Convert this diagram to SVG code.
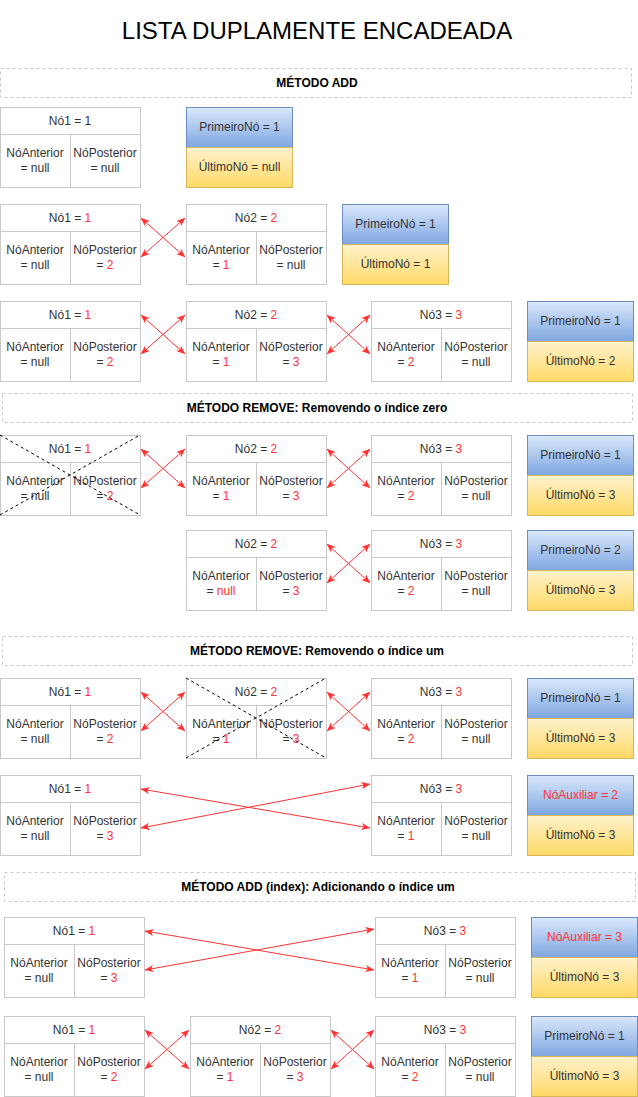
<svg xmlns="http://www.w3.org/2000/svg" width="638" height="1097" viewBox="0 0 638 1097">
<defs>
<linearGradient id="gb" x1="0" y1="0" x2="0" y2="1"><stop offset="0" stop-color="#dae8fc"/><stop offset="1" stop-color="#7ea6e0"/></linearGradient>
<linearGradient id="gy" x1="0" y1="0" x2="0" y2="1"><stop offset="0" stop-color="#fff2cc"/><stop offset="1" stop-color="#ffd966"/></linearGradient>
<marker id="ah" viewBox="0 0 10 10" refX="9.5" refY="5" markerWidth="9" markerHeight="9" markerUnits="userSpaceOnUse" orient="auto-start-reverse"><path d="M0,1 L10,5 L0,9 L2.5,5 z" fill="#FF3333"/></marker>
<style>
.t{font-family:"Liberation Sans",Arial,Helvetica,sans-serif;font-size:12px;fill:#333;text-anchor:middle}
.r{fill:#FF3333}
.nb{fill:#fff;stroke:#C8C8C8;stroke-width:1}
.nl{fill:none;stroke:#C8C8C8;stroke-width:1}
.bb{fill:url(#gb);stroke:#6c8ebf;stroke-width:1}
.by{fill:url(#gy);stroke:#d6b656;stroke-width:1}
.sec{fill:none;stroke:#C8C8C8;stroke-dasharray:3 3;stroke-width:1}
.st{font-family:"Liberation Sans",Arial,Helvetica,sans-serif;font-size:12px;font-weight:bold;fill:#000;text-anchor:middle}
.ti{font-family:"Liberation Sans",Arial,Helvetica,sans-serif;font-size:24px;fill:#000;text-anchor:middle}
.x{stroke:#000;stroke-dasharray:3 3;stroke-width:1;fill:none}
.a{stroke:#FF3333;stroke-width:1;fill:none;marker-start:url(#ah);marker-end:url(#ah)}
</style>
</defs>
<rect width="638" height="1097" fill="#fff"/>
<text id="title" class="ti" x="317" y="38.5">LISTA DUPLAMENTE ENCADEADA</text>

<g id="sec-add"><rect class="sec" x="0.5" y="68.5" width="631" height="29"/><text class="st" x="317" y="86.5">MÉTODO ADD</text></g>
<g id="sec-rem0"><rect class="sec" x="2.5" y="393.5" width="630" height="29"/><text class="st" x="317" y="412">MÉTODO REMOVE: Removendo o índice zero</text></g>
<g id="sec-rem1"><rect class="sec" x="2.5" y="636.5" width="630" height="29"/><text class="st" x="317" y="655">MÉTODO REMOVE: Removendo o índice um</text></g>
<g id="sec-addi"><rect class="sec" x="4.5" y="872.5" width="631" height="29"/><text class="st" x="318" y="891">MÉTODO ADD (index): Adicionando o índice um</text></g>

<!-- Row A -->
<g id="a-no1" transform="translate(0,107)">
<rect class="nb" x="0.5" y="0.5" width="140" height="80"/><path class="nl" d="M0.5,27.5H140.5M70.5,27.5V80.5"/>
<text class="t" x="70" y="18">Nó1 = 1</text>
<text class="t" x="35" y="50">NóAnterior</text><text class="t" x="35" y="65">= null</text>
<text class="t" x="105" y="50">NóPosterior</text><text class="t" x="105" y="65">= null</text>
</g>
<g id="a-box" transform="translate(186,107)">
<rect class="bb" x="0.5" y="0.5" width="106" height="40"/><rect class="by" x="0.5" y="40.5" width="106" height="40"/>
<text class="t" x="53.5" y="24">PrimeiroNó = 1</text><text class="t" x="53.5" y="64">ÚltimoNó = null</text>
</g>

<!-- Row B -->
<g id="b-no1" transform="translate(0,204)">
<rect class="nb" x="0.5" y="0.5" width="140" height="80"/><path class="nl" d="M0.5,27.5H140.5M70.5,27.5V80.5"/>
<text class="t" x="70" y="18">Nó1 = <tspan class="r">1</tspan></text>
<text class="t" x="35" y="50">NóAnterior</text><text class="t" x="35" y="65">= null</text>
<text class="t" x="105" y="50">NóPosterior</text><text class="t" x="105" y="65">= <tspan class="r">2</tspan></text>
</g>
<g id="b-no2" transform="translate(186,204)">
<rect class="nb" x="0.5" y="0.5" width="140" height="80"/><path class="nl" d="M0.5,27.5H140.5M70.5,27.5V80.5"/>
<text class="t" x="70" y="18">Nó2 = <tspan class="r">2</tspan></text>
<text class="t" x="35" y="50">NóAnterior</text><text class="t" x="35" y="65">= <tspan class="r">1</tspan></text>
<text class="t" x="105" y="50">NóPosterior</text><text class="t" x="105" y="65">= null</text>
</g>
<g id="b-box" transform="translate(342,204)">
<rect class="bb" x="0.5" y="0.5" width="106" height="40"/><rect class="by" x="0.5" y="40.5" width="106" height="40"/>
<text class="t" x="53.5" y="24">PrimeiroNó = 1</text><text class="t" x="53.5" y="64">ÚltimoNó = 1</text>
</g>

<!-- Row C -->
<g id="c-no1" transform="translate(0,301)">
<rect class="nb" x="0.5" y="0.5" width="140" height="80"/><path class="nl" d="M0.5,27.5H140.5M70.5,27.5V80.5"/>
<text class="t" x="70" y="18">Nó1 = <tspan class="r">1</tspan></text>
<text class="t" x="35" y="50">NóAnterior</text><text class="t" x="35" y="65">= null</text>
<text class="t" x="105" y="50">NóPosterior</text><text class="t" x="105" y="65">= <tspan class="r">2</tspan></text>
</g>
<g id="c-no2" transform="translate(186,301)">
<rect class="nb" x="0.5" y="0.5" width="140" height="80"/><path class="nl" d="M0.5,27.5H140.5M70.5,27.5V80.5"/>
<text class="t" x="70" y="18">Nó2 = <tspan class="r">2</tspan></text>
<text class="t" x="35" y="50">NóAnterior</text><text class="t" x="35" y="65">= <tspan class="r">1</tspan></text>
<text class="t" x="105" y="50">NóPosterior</text><text class="t" x="105" y="65">= <tspan class="r">3</tspan></text>
</g>
<g id="c-no3" transform="translate(371,301)">
<rect class="nb" x="0.5" y="0.5" width="140" height="80"/><path class="nl" d="M0.5,27.5H140.5M70.5,27.5V80.5"/>
<text class="t" x="70" y="18">Nó3 = <tspan class="r">3</tspan></text>
<text class="t" x="35" y="50">NóAnterior</text><text class="t" x="35" y="65">= <tspan class="r">2</tspan></text>
<text class="t" x="105" y="50">NóPosterior</text><text class="t" x="105" y="65">= null</text>
</g>
<g id="c-box" transform="translate(527,301)">
<rect class="bb" x="0.5" y="0.5" width="106" height="40"/><rect class="by" x="0.5" y="40.5" width="106" height="40"/>
<text class="t" x="53.5" y="24">PrimeiroNó = 1</text><text class="t" x="53.5" y="64">ÚltimoNó = 2</text>
</g>

<!-- Row D -->
<g id="d-no1" transform="translate(0,435)">
<rect class="nb" x="0.5" y="0.5" width="140" height="80"/><path class="nl" d="M0.5,27.5H140.5M70.5,27.5V80.5"/>
<text class="t" x="70" y="18">Nó1 = <tspan class="r">1</tspan></text>
<text class="t" x="35" y="50">NóAnterior</text><text class="t" x="35" y="65">= null</text>
<text class="t" x="105" y="50">NóPosterior</text><text class="t" x="105" y="65">= <tspan class="r">2</tspan></text>
<path class="x" d="M0,0L140,80M0,80L140,0"/>
</g>
<g id="d-no2" transform="translate(186,435)">
<rect class="nb" x="0.5" y="0.5" width="140" height="80"/><path class="nl" d="M0.5,27.5H140.5M70.5,27.5V80.5"/>
<text class="t" x="70" y="18">Nó2 = <tspan class="r">2</tspan></text>
<text class="t" x="35" y="50">NóAnterior</text><text class="t" x="35" y="65">= <tspan class="r">1</tspan></text>
<text class="t" x="105" y="50">NóPosterior</text><text class="t" x="105" y="65">= <tspan class="r">3</tspan></text>
</g>
<g id="d-no3" transform="translate(371,435)">
<rect class="nb" x="0.5" y="0.5" width="140" height="80"/><path class="nl" d="M0.5,27.5H140.5M70.5,27.5V80.5"/>
<text class="t" x="70" y="18">Nó3 = <tspan class="r">3</tspan></text>
<text class="t" x="35" y="50">NóAnterior</text><text class="t" x="35" y="65">= <tspan class="r">2</tspan></text>
<text class="t" x="105" y="50">NóPosterior</text><text class="t" x="105" y="65">= null</text>
</g>
<g id="d-box" transform="translate(527,435)">
<rect class="bb" x="0.5" y="0.5" width="106" height="40"/><rect class="by" x="0.5" y="40.5" width="106" height="40"/>
<text class="t" x="53.5" y="24">PrimeiroNó = 1</text><text class="t" x="53.5" y="64">ÚltimoNó = 3</text>
</g>

<!-- Row E -->
<g id="e-no2" transform="translate(186,530)">
<rect class="nb" x="0.5" y="0.5" width="140" height="80"/><path class="nl" d="M0.5,27.5H140.5M70.5,27.5V80.5"/>
<text class="t" x="70" y="18">Nó2 = <tspan class="r">2</tspan></text>
<text class="t" x="35" y="50">NóAnterior</text><text class="t" x="35" y="65">= <tspan class="r">null</tspan></text>
<text class="t" x="105" y="50">NóPosterior</text><text class="t" x="105" y="65">= <tspan class="r">3</tspan></text>
</g>
<g id="e-no3" transform="translate(371,530)">
<rect class="nb" x="0.5" y="0.5" width="140" height="80"/><path class="nl" d="M0.5,27.5H140.5M70.5,27.5V80.5"/>
<text class="t" x="70" y="18">Nó3 = <tspan class="r">3</tspan></text>
<text class="t" x="35" y="50">NóAnterior</text><text class="t" x="35" y="65">= <tspan class="r">2</tspan></text>
<text class="t" x="105" y="50">NóPosterior</text><text class="t" x="105" y="65">= null</text>
</g>
<g id="e-box" transform="translate(527,530)">
<rect class="bb" x="0.5" y="0.5" width="106" height="40"/><rect class="by" x="0.5" y="40.5" width="106" height="40"/>
<text class="t" x="53.5" y="24">PrimeiroNó = 2</text><text class="t" x="53.5" y="64">ÚltimoNó = 3</text>
</g>

<!-- Row F -->
<g id="f-no1" transform="translate(0,678)">
<rect class="nb" x="0.5" y="0.5" width="140" height="80"/><path class="nl" d="M0.5,27.5H140.5M70.5,27.5V80.5"/>
<text class="t" x="70" y="18">Nó1 = <tspan class="r">1</tspan></text>
<text class="t" x="35" y="50">NóAnterior</text><text class="t" x="35" y="65">= null</text>
<text class="t" x="105" y="50">NóPosterior</text><text class="t" x="105" y="65">= <tspan class="r">2</tspan></text>
</g>
<g id="f-no2" transform="translate(186,678)">
<rect class="nb" x="0.5" y="0.5" width="140" height="80"/><path class="nl" d="M0.5,27.5H140.5M70.5,27.5V80.5"/>
<text class="t" x="70" y="18">Nó2 = <tspan class="r">2</tspan></text>
<text class="t" x="35" y="50">NóAnterior</text><text class="t" x="35" y="65">= <tspan class="r">1</tspan></text>
<text class="t" x="105" y="50">NóPosterior</text><text class="t" x="105" y="65">= <tspan class="r">3</tspan></text>
<path class="x" d="M0,0L140,80M0,80L140,0"/>
</g>
<g id="f-no3" transform="translate(371,678)">
<rect class="nb" x="0.5" y="0.5" width="140" height="80"/><path class="nl" d="M0.5,27.5H140.5M70.5,27.5V80.5"/>
<text class="t" x="70" y="18">Nó3 = <tspan class="r">3</tspan></text>
<text class="t" x="35" y="50">NóAnterior</text><text class="t" x="35" y="65">= <tspan class="r">2</tspan></text>
<text class="t" x="105" y="50">NóPosterior</text><text class="t" x="105" y="65">= null</text>
</g>
<g id="f-box" transform="translate(527,678)">
<rect class="bb" x="0.5" y="0.5" width="106" height="40"/><rect class="by" x="0.5" y="40.5" width="106" height="40"/>
<text class="t" x="53.5" y="24">PrimeiroNó = 1</text><text class="t" x="53.5" y="64">ÚltimoNó = 3</text>
</g>

<!-- Row G -->
<g id="g-no1" transform="translate(0,775)">
<rect class="nb" x="0.5" y="0.5" width="140" height="80"/><path class="nl" d="M0.5,27.5H140.5M70.5,27.5V80.5"/>
<text class="t" x="70" y="18">Nó1 = <tspan class="r">1</tspan></text>
<text class="t" x="35" y="50">NóAnterior</text><text class="t" x="35" y="65">= null</text>
<text class="t" x="105" y="50">NóPosterior</text><text class="t" x="105" y="65">= <tspan class="r">3</tspan></text>
</g>
<g id="g-no3" transform="translate(371,775)">
<rect class="nb" x="0.5" y="0.5" width="140" height="80"/><path class="nl" d="M0.5,27.5H140.5M70.5,27.5V80.5"/>
<text class="t" x="70" y="18">Nó3 = <tspan class="r">3</tspan></text>
<text class="t" x="35" y="50">NóAnterior</text><text class="t" x="35" y="65">= <tspan class="r">1</tspan></text>
<text class="t" x="105" y="50">NóPosterior</text><text class="t" x="105" y="65">= null</text>
</g>
<g id="g-box" transform="translate(527,775)">
<rect class="bb" x="0.5" y="0.5" width="106" height="40"/><rect class="by" x="0.5" y="40.5" width="106" height="40"/>
<text class="t r" x="53.5" y="24">NóAuxiliar = 2</text><text class="t" x="53.5" y="64">ÚltimoNó = 3</text>
</g>

<!-- Row H -->
<g id="h-no1" transform="translate(4,917)">
<rect class="nb" x="0.5" y="0.5" width="140" height="80"/><path class="nl" d="M0.5,27.5H140.5M70.5,27.5V80.5"/>
<text class="t" x="70" y="18">Nó1 = <tspan class="r">1</tspan></text>
<text class="t" x="35" y="50">NóAnterior</text><text class="t" x="35" y="65">= null</text>
<text class="t" x="105" y="50">NóPosterior</text><text class="t" x="105" y="65">= <tspan class="r">3</tspan></text>
</g>
<g id="h-no3" transform="translate(375,917)">
<rect class="nb" x="0.5" y="0.5" width="140" height="80"/><path class="nl" d="M0.5,27.5H140.5M70.5,27.5V80.5"/>
<text class="t" x="70" y="18">Nó3 = <tspan class="r">3</tspan></text>
<text class="t" x="35" y="50">NóAnterior</text><text class="t" x="35" y="65">= <tspan class="r">1</tspan></text>
<text class="t" x="105" y="50">NóPosterior</text><text class="t" x="105" y="65">= null</text>
</g>
<g id="h-box" transform="translate(531,917)">
<rect class="bb" x="0.5" y="0.5" width="106" height="40"/><rect class="by" x="0.5" y="40.5" width="106" height="40"/>
<text class="t r" x="53.5" y="24">NóAuxiliar = 3</text><text class="t" x="53.5" y="64">ÚltimoNó = 3</text>
</g>

<!-- Row I -->
<g id="i-no1" transform="translate(4,1016)">
<rect class="nb" x="0.5" y="0.5" width="140" height="80"/><path class="nl" d="M0.5,27.5H140.5M70.5,27.5V80.5"/>
<text class="t" x="70" y="18">Nó1 = <tspan class="r">1</tspan></text>
<text class="t" x="35" y="50">NóAnterior</text><text class="t" x="35" y="65">= null</text>
<text class="t" x="105" y="50">NóPosterior</text><text class="t" x="105" y="65">= <tspan class="r">2</tspan></text>
</g>
<g id="i-no2" transform="translate(190,1016)">
<rect class="nb" x="0.5" y="0.5" width="140" height="80"/><path class="nl" d="M0.5,27.5H140.5M70.5,27.5V80.5"/>
<text class="t" x="70" y="18">Nó2 = <tspan class="r">2</tspan></text>
<text class="t" x="35" y="50">NóAnterior</text><text class="t" x="35" y="65">= <tspan class="r">1</tspan></text>
<text class="t" x="105" y="50">NóPosterior</text><text class="t" x="105" y="65">= <tspan class="r">3</tspan></text>
</g>
<g id="i-no3" transform="translate(375,1016)">
<rect class="nb" x="0.5" y="0.5" width="140" height="80"/><path class="nl" d="M0.5,27.5H140.5M70.5,27.5V80.5"/>
<text class="t" x="70" y="18">Nó3 = <tspan class="r">3</tspan></text>
<text class="t" x="35" y="50">NóAnterior</text><text class="t" x="35" y="65">= <tspan class="r">2</tspan></text>
<text class="t" x="105" y="50">NóPosterior</text><text class="t" x="105" y="65">= null</text>
</g>
<g id="i-box" transform="translate(531,1016)">
<rect class="bb" x="0.5" y="0.5" width="106" height="40"/><rect class="by" x="0.5" y="40.5" width="106" height="40"/>
<text class="t" x="53.5" y="24">PrimeiroNó = 1</text><text class="t" x="53.5" y="64">ÚltimoNó = 3</text>
</g>

<g id="connectors">
<path class="a" d="M141,218L185,257"/><path class="a" d="M141,257L185,218"/>
<path class="a" d="M141,315L185,354"/><path class="a" d="M141,354L185,315"/>
<path class="a" d="M327,315L370,354"/><path class="a" d="M327,354L370,315"/>
<path class="a" d="M141,449L185,488"/><path class="a" d="M141,488L185,449"/>
<path class="a" d="M327,449L370,488"/><path class="a" d="M327,488L370,449"/>
<path class="a" d="M327,544L370,583"/><path class="a" d="M327,583L370,544"/>
<path class="a" d="M141,692L185,731"/><path class="a" d="M141,731L185,692"/>
<path class="a" d="M327,692L370,731"/><path class="a" d="M327,731L370,692"/>
<path class="a" d="M141,789L370,828"/><path class="a" d="M141,828L370,784"/>
<path class="a" d="M145,931L374,970"/><path class="a" d="M145,970L374,929"/>
<path class="a" d="M145,1030L189,1069"/><path class="a" d="M145,1069L189,1030"/>
<path class="a" d="M331,1030L374,1069"/><path class="a" d="M331,1069L374,1030"/>
</g>
</svg>
